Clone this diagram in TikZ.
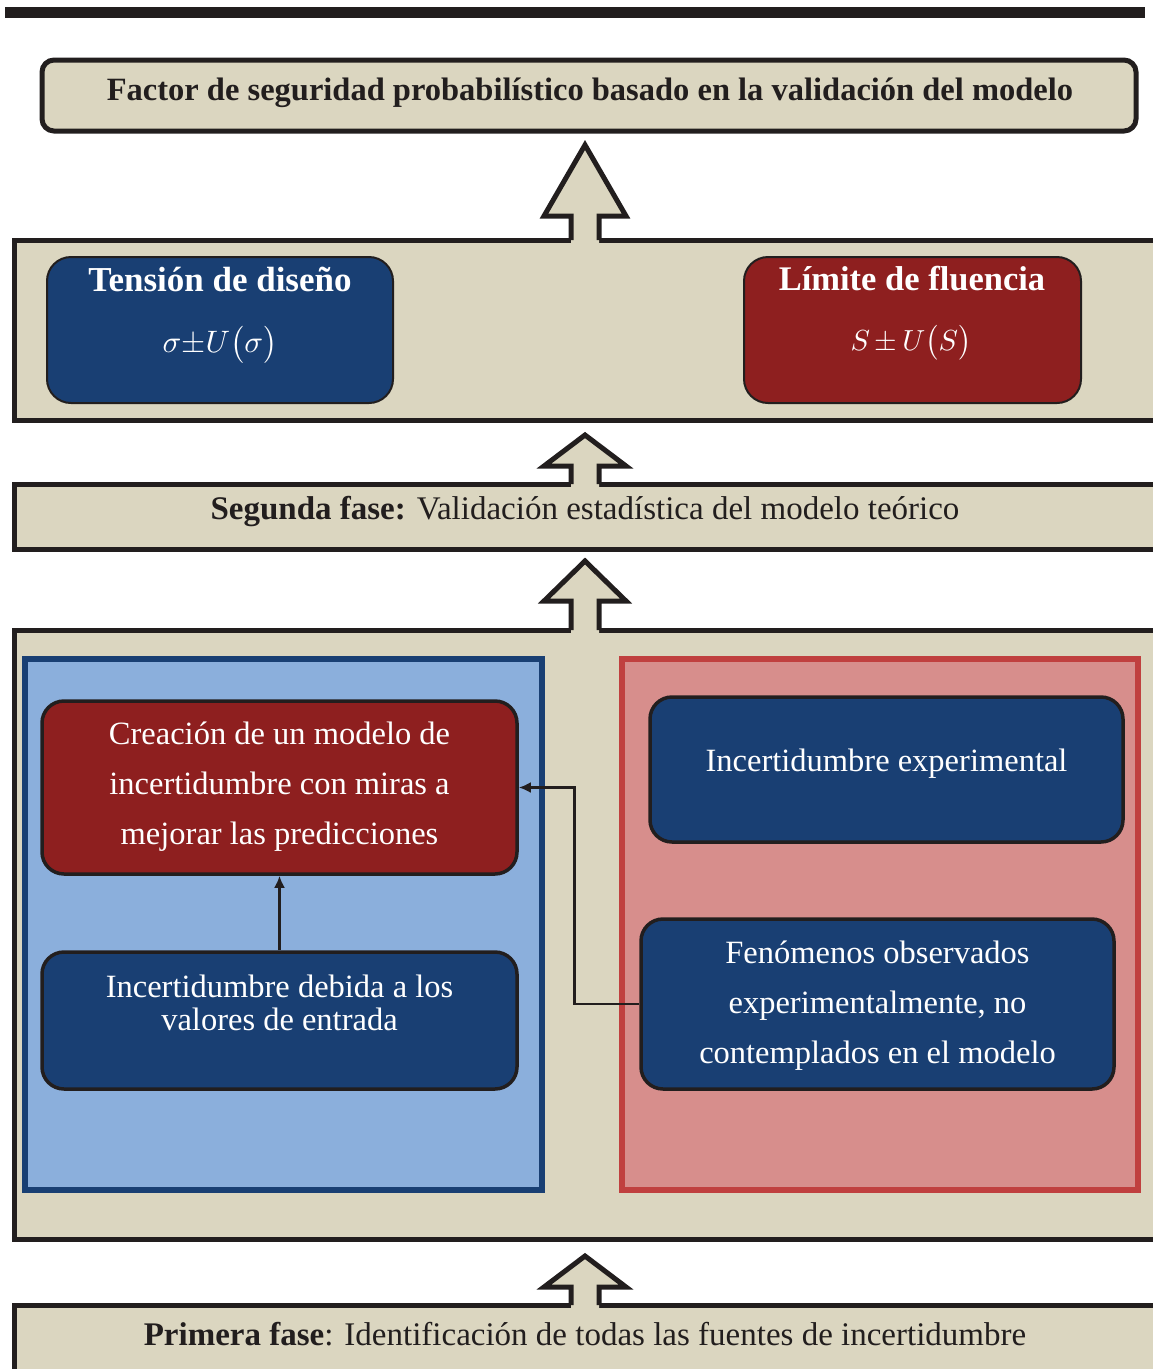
\documentclass[tikz,border=0pt]{standalone}
\usepackage{fontspec}
\setmainfont{Liberation Serif}
\usetikzlibrary{arrows.meta}
\definecolor{beige}{RGB}{219,214,192}
\definecolor{dblue}{RGB}{25,63,115}
\definecolor{dred}{RGB}{142,31,31}
\definecolor{lblue}{RGB}{139,175,220}
\definecolor{pinkr}{RGB}{215,142,140}
\definecolor{redb}{RGB}{192,64,63}
\definecolor{ink}{RGB}{34,30,30}
\tikzset{
  stagebox/.style={draw=ink, line width=5pt, fill=beige},
  inbox/.style={draw=ink, line width=3.5pt, rounded corners=22pt, inner sep=0pt},
  blockarrow/.style={draw=ink, line width=5pt, line join=miter},
  wtext/.style={text=white, align=center, inner sep=0pt},
  btext/.style={text=ink, align=center, inner sep=0pt},
  conn/.style={draw=ink, line width=2.5pt},
  bodyfont/.style={font=\fontsize{32.5}{50}\selectfont},
}
\newcommand{\barrow}[4]{% tip y, head base y, box top y, name
  \fill[beige] (571,#3+4) -- (571,#2) -- (544,#2) -- (585,#1) -- (626,#2) -- (599,#2) -- (599,#3+4) -- cycle;
  \draw[blockarrow] (571,#3) -- (571,#2) -- (544,#2) -- (585,#1) -- (626,#2) -- (599,#2) -- (599,#3);
  \coordinate (#4) at (585,#1);
}
\begin{document}
\begin{tikzpicture}[x=1pt,y=-1pt]
\useasboundingbox (0,0) rectangle (1153,1369);
\clip (0,0) rectangle (1153,1369);
% top bar
\fill[ink] (5,7) rectangle (1145,18);
% top result box
\node[draw=ink, line width=5pt, fill=beige, rounded corners=12pt, minimum width=1094pt, minimum height=71pt, inner sep=0pt] (fs) at (589,95.5) {};
\node[btext, font=\fontsize{32.5}{36}\selectfont\bfseries] (fstext) at (590,93) {Factor de seguridad probabilístico basado en la validación del modelo};
% second stage result box
\draw[stagebox] (14,240) rectangle (1175,420);
\barrow{145}{216}{240}{a1}
% Tension
\node[draw=ink, line width=2pt, fill=dblue, rounded corners=24pt, minimum width=346pt, minimum height=146pt] (ten) at (220,330) {};
\node[wtext, font=\fontsize{35}{38}\selectfont\bfseries] (tent) at (220,279) {Tensión de diseño};
\node[wtext] (tenf) at (220,345) {\scalebox{3.1}{$\sigma{\pm}U\bigl(\sigma\bigr)$}};
% Limite
\node[draw=ink, line width=2pt, fill=dred, rounded corners=24pt, minimum width=337pt, minimum height=146pt] (lim) at (912.5,330) {};
\node[wtext, font=\fontsize{34.5}{38}\selectfont\bfseries] (limt) at (912,279) {Límite de fluencia};
\node[wtext] (limf) at (911,343) {\scalebox{2.9}{$S\,{\pm}\,U\bigl(S\bigr)$}};
% segunda fase
\draw[stagebox] (14,484) rectangle (1175,549);
\barrow{435}{466}{484}{a2}
\node[btext, font=\fontsize{33}{36}\selectfont] (seg) at (585,512) {\textbf{Segunda fase:} Validación estadística del modelo teórico};
% big first-stage box
\draw[stagebox] (14,630) rectangle (1175,1239);
\barrow{561}{601}{630}{a3}
% regions
\draw[draw=dblue, line width=6pt, fill=lblue] (25,659) rectangle (542,1190);
\draw[draw=redb, line width=6pt, fill=pinkr] (622,659) rectangle (1138,1190);
% inner boxes
\node[inbox, fill=dred, minimum width=475pt, minimum height=173pt] (crea) at (279.5,787.5) {};
\node[wtext, bodyfont] at (279.5,787) {Creación de un modelo de\\incertidumbre con miras a\\mejorar las predicciones};
\node[inbox, fill=dblue, minimum width=475pt, minimum height=137pt] (deb) at (279.5,1020.5) {};
\node[wtext, font=\fontsize{32.5}{33}\selectfont] at (279.5,1003) {Incertidumbre debida a los\\valores de entrada};
\node[inbox, fill=dblue, minimum width=473pt, minimum height=145pt] (exp) at (886.5,769.5) {};
\node[wtext, bodyfont] at (886.5,764) {Incertidumbre experimental};
\node[inbox, fill=dblue, minimum width=473pt, minimum height=170pt] (fen) at (877.5,1004) {};
\node[wtext, bodyfont] at (877.5,1006) {Fenómenos observados\\experimentalmente, no\\contemplados en el modelo};
% connectors
\draw[conn, -{Latex[length=12pt,width=11pt]}] (deb.north) -- (crea.south);
\draw[conn, -{Latex[length=12pt,width=11pt]}] (fen.west) -- ++(-65,0) |- (crea.east);
% primera fase
\draw[stagebox] (14,1305) rectangle (1175,1385);
\barrow{1256}{1287}{1305}{a4}
\node[btext, font=\fontsize{33}{36}\selectfont] (pri) at (585,1334) {\textbf{Primera fase}: Identificación de todas las fuentes de incertidumbre};
\end{tikzpicture}
\end{document}
